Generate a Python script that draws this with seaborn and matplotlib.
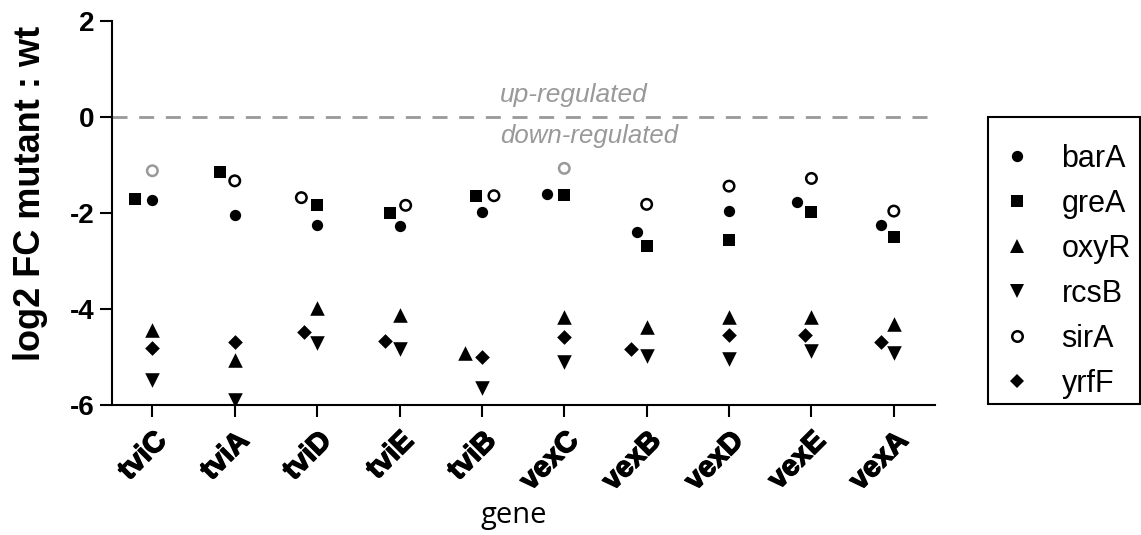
import numpy as np
import pandas as pd
import matplotlib
matplotlib.use('Agg')
import matplotlib.pyplot as plt
import matplotlib.patheffects as pe
from matplotlib.lines import Line2D
from matplotlib.patches import Rectangle
import seaborn as sns

# data (log2 fold change, mutant vs wild type)
genes = ['tviC', 'tviA', 'tviD', 'tviE', 'tviB', 'vexC', 'vexB', 'vexD', 'vexE', 'vexA']
mutants = ['barA', 'greA', 'oxyR', 'rcsB', 'sirA', 'yrfF']
barA = [-1.72, -2.05, -2.24, -2.28, -1.98, -1.60, -2.39, -1.96, -1.78, -2.25]
greA = [-1.71, -1.15, -1.83, -1.99, -1.65, -1.63, -2.68, -2.56, -1.98, -2.49]
oxyR = [-4.44, -5.06, -3.97, -4.13, -4.92, -4.17, -4.38, -4.17, -4.17, -4.31]
rcsB = [-5.47, -5.90, -4.70, -4.84, -5.65, -5.11, -4.97, -5.05, -4.87, -4.92]
sirA = [-1.12, -1.33, -1.68, -1.84, -1.64, -1.07, -1.82, -1.44, -1.28, -1.96]
yrfF = [-4.82, -4.69, -4.47, -4.66, -5.01, -4.58, -4.83, -4.55, -4.55, -4.69]
# sirA values drawn in grey
sirA_grey = ['tviC', 'vexC']

vals = {'barA': barA, 'greA': greA, 'oxyR': oxyR, 'rcsB': rcsB, 'sirA': sirA, 'yrfF': yrfF}
rows = []
for i, g in enumerate(genes):
    for m in mutants:
        rows.append({'gene': g, 'mutant': m, 'log2fc': vals[m][i]})
df = pd.DataFrame(rows)

sns.set_style('ticks')
plt.rcParams['font.family'] = ['Liberation Sans', 'DejaVu Sans']
plt.rcParams['axes.linewidth'] = 1.5
plt.rcParams['axes.unicode_minus'] = False
plt.rcParams['text.color'] = 'black'
plt.rcParams['axes.labelcolor'] = 'black'
plt.rcParams['xtick.color'] = 'black'
plt.rcParams['ytick.color'] = 'black'
plt.rcParams['axes.edgecolor'] = 'black'

fig, ax = plt.subplots(figsize=(11.41, 5.35), dpi=100)
fig.subplots_adjust(left=112/1141, right=935/1141, top=1-21/535, bottom=1-405/535)

# let seaborn's swarm spread the points inside each gene column
sns.swarmplot(data=df, x='gene', y='log2fc', order=genes, size=12,
              color='black', linewidth=0, ax=ax)
ax.set_xlim(-0.49, 9.5)
ax.set_ylim(-6, 2)
fig.canvas.draw()

offsets = np.vstack([c.get_offsets() for c in ax.collections])
df['xpos'] = offsets[:, 0]
for c in list(ax.collections):
    c.remove()

styles = {
    'barA': dict(marker='o', s=66),
    'greA': dict(marker='s', s=70),
    'oxyR': dict(marker='^', s=110),
    'rcsB': dict(marker='v', s=110),
    'sirA': dict(marker='o', s=57),
    'yrfF': dict(marker='D', s=56),
}
for m in mutants:
    sub = df[df['mutant'] == m]
    if m == 'sirA':
        cols = ['#999999' if g in sirA_grey else 'black' for g in sub['gene']]
        ax.scatter(sub['xpos'], sub['log2fc'], facecolors='white', edgecolors=cols,
                   linewidths=1.8, zorder=3, **styles[m])
    else:
        ax.scatter(sub['xpos'], sub['log2fc'], color='black', linewidths=0,
                   zorder=3, **styles[m])

ax.axhline(0, color='#999999', lw=2, ls=(0, (5.4, 4.2)), zorder=1)
ax.text(4.22, 0.32, 'up-regulated', style='italic', color='#999999', fontsize=19)
ax.text(4.22, -0.54, 'down-regulated', style='italic', color='#999999', fontsize=18.5)

sns.despine(ax=ax)
ax.set_yticks([2, 0, -2, -4, -6])
ax.tick_params(width=1.5, length=8.5, color='black')
ax.tick_params(axis='y', labelsize=20, pad=4)
for lab in ax.get_yticklabels():
    lab.set_fontweight('bold')
ax.set_xticks(range(len(genes)))
ax.set_xticklabels(genes, rotation=45, ha='right', rotation_mode='anchor',
                   fontsize=21, fontweight='bold',
                   path_effects=[pe.withStroke(linewidth=1, foreground='black')])
ax.tick_params(axis='x', pad=7)
ax.set_ylabel('log2 FC mutant : wt', fontsize=26, fontweight='bold', labelpad=16)
ax.yaxis.label.set_y(0.552)
ax.set_xlabel('gene', fontsize=21, family='Open Sans', labelpad=4)
ax.xaxis.label.set_x(0.488)

handles = []
for m in mutants:
    st = styles[m]
    ms = np.sqrt(st['s'])
    if m == 'sirA':
        h = Line2D([], [], ls='none', marker='o', markersize=ms, mfc='white',
                   mec='black', mew=1.8, label=m)
    else:
        h = Line2D([], [], ls='none', marker=st['marker'], markersize=ms,
                   color='black', mew=0, label=m)
    handles.append(h)
fig.legend(handles=handles, loc='upper left', bbox_to_anchor=(1009/1141, 1-144/535),
           bbox_transform=fig.transFigure, borderaxespad=0, borderpad=0,
           frameon=False, fontsize=22, handlelength=0.5, handletextpad=1.22,
           labelspacing=0.49)
# legend frame
fig.add_artist(Rectangle((988/1141, 1-404/535), 152/1141, 287/535,
                         transform=fig.transFigure, fill=False, lw=1.5, ec='black'))

fig.savefig('out.png', dpi=100)
